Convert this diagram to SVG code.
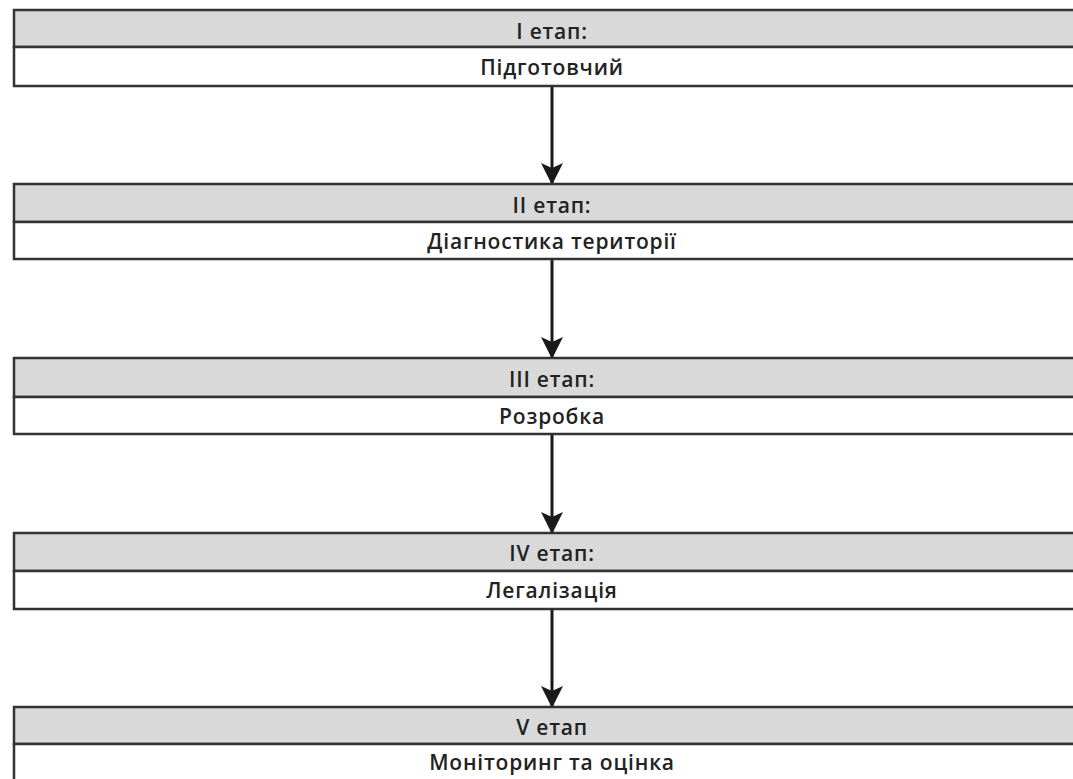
<svg xmlns="http://www.w3.org/2000/svg" width="1073" height="779" viewBox="0 0 1073 779">
<defs>
<style>
.hd{fill:#d9d9d9;stroke:#333;stroke-width:2.5}
.bd{fill:#fff;stroke:#333;stroke-width:2.5}
.t{font-family:"Open Sans","Liberation Sans",sans-serif;font-size:21px;font-weight:600;letter-spacing:0.8px;fill:#222;text-anchor:middle}
.c{stroke:#1a1a1a;stroke-width:3;fill:none}
</style>
<marker id="ah" markerUnits="userSpaceOnUse" markerWidth="22" markerHeight="28" refX="20" refY="11" orient="auto" viewBox="0 0 22 22">
<path d="M0,0 L22,11 L0,22 L5,11 z" fill="#1a1a1a"/>
</marker>
</defs>
<rect width="1073" height="779" fill="#fff"/>
<g id="connectors">
<line class="c" x1="552" y1="87" x2="552" y2="183" marker-end="url(#ah)"/>
<line class="c" x1="552" y1="260" x2="552" y2="357" marker-end="url(#ah)"/>
<line class="c" x1="552" y1="435" x2="552" y2="532" marker-end="url(#ah)"/>
<line class="c" x1="552" y1="610" x2="552" y2="706" marker-end="url(#ah)"/>
</g>
<g id="stage1">
<rect class="hd" x="14" y="10" width="1080" height="37"/>
<rect class="bd" x="14" y="47" width="1080" height="39"/>
<text class="t" x="552" y="39">I етап:</text>
<text class="t" x="552" y="75">Підготовчий</text>
</g>
<g id="stage2">
<rect class="hd" x="14" y="184" width="1080" height="38"/>
<rect class="bd" x="14" y="222" width="1080" height="37"/>
<text class="t" x="552" y="213">II етап:</text>
<text class="t" x="552" y="249">Діагностика території</text>
</g>
<g id="stage3">
<rect class="hd" x="14" y="358" width="1080" height="39"/>
<rect class="bd" x="14" y="397" width="1080" height="37"/>
<text class="t" x="552" y="387">III етап:</text>
<text class="t" x="552" y="424">Розробка</text>
</g>
<g id="stage4">
<rect class="hd" x="14" y="533" width="1080" height="38"/>
<rect class="bd" x="14" y="571" width="1080" height="38"/>
<text class="t" x="552" y="561">IV етап:</text>
<text class="t" x="552" y="598">Легалізація</text>
</g>
<g id="stage5">
<rect class="hd" x="14" y="707" width="1080" height="37"/>
<rect class="bd" x="14" y="744" width="1080" height="50"/>
<text class="t" x="552" y="735">V етап</text>
<text class="t" x="552" y="770">Моніторинг та оцінка</text>
</g>
</svg>
